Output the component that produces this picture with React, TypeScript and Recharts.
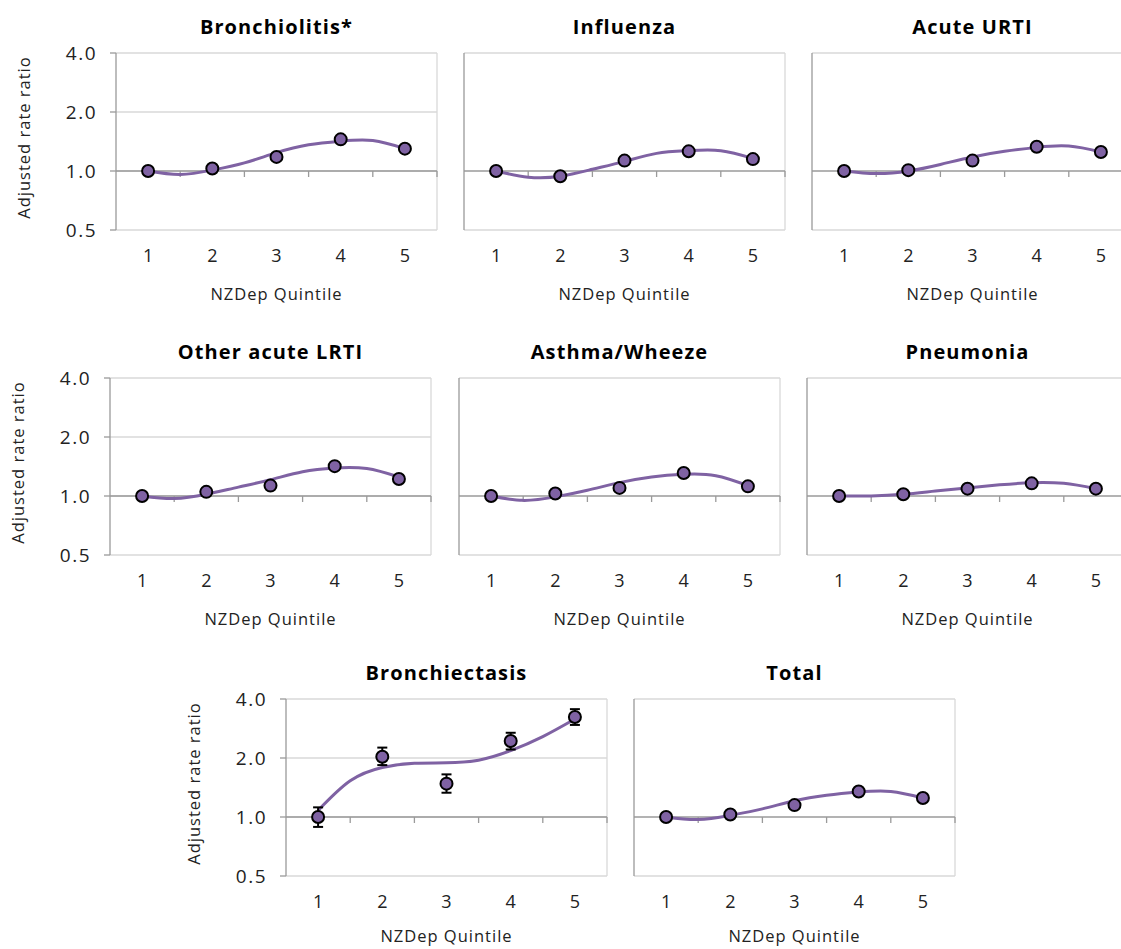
import {
  ComposedChart, Line, Scatter, ErrorBar,
  XAxis, YAxis, CartesianGrid, ReferenceLine,
} from 'recharts'

const QUINTILES = [1, 2, 3, 4, 5]
const TREND_X = [1, 1.5, 2, 2.5, 3, 3.5, 4, 4.5, 5]
const Y_TICKS = [0.5, 1, 2, 4]

const bronchiolitisRR    = [1.0, 1.03, 1.18, 1.45, 1.30]
const bronchiolitisTrend = [1.0, 0.96, 1.01, 1.10, 1.24, 1.36, 1.42, 1.43, 1.30]

const influenzaRR    = [1.0, 0.94, 1.13, 1.26, 1.15]
const influenzaTrend = [1.0, 0.93, 0.94, 1.02, 1.12, 1.23, 1.27, 1.27, 1.16]

const urtiRR    = [1.0, 1.01, 1.13, 1.33, 1.25]
const urtiTrend = [1.0, 0.97, 1.0, 1.08, 1.18, 1.26, 1.32, 1.34, 1.25]

const lrtiRR    = [1.0, 1.05, 1.13, 1.42, 1.22]
const lrtiTrend = [1.0, 0.97, 1.02, 1.11, 1.21, 1.33, 1.39, 1.38, 1.25]

const asthmaRR    = [1.0, 1.03, 1.10, 1.31, 1.12]
const asthmaTrend = [1.0, 0.95, 0.99, 1.07, 1.17, 1.25, 1.29, 1.27, 1.13]

const pneumoniaRR    = [1.0, 1.02, 1.09, 1.16, 1.09]
const pneumoniaTrend = [1.0, 1.0, 1.02, 1.06, 1.10, 1.14, 1.17, 1.16, 1.09]

const bronchiectasisRR    = [1.0, 2.03, 1.48, 2.44, 3.24]
const bronchiectasisLower = [0.89, 1.84, 1.33, 2.21, 2.95]
const bronchiectasisUpper = [1.12, 2.26, 1.65, 2.69, 3.55]
const bronchiectasisTrend = [1.08, 1.53, 1.79, 1.88, 1.89, 1.95, 2.18, 2.57, 3.16]

const totalRR    = [1.0, 1.03, 1.15, 1.35, 1.25]
const totalTrend = [1.0, 0.97, 1.02, 1.10, 1.21, 1.29, 1.34, 1.35, 1.25]

const PURPLE = '#7f62a3'
const AXIS = '#9a9a9a'
const GRID = '#d9d9d9'
const FONT = '"Open Sans", sans-serif'

const PLOT_W = 321
const PLOT_H = 177
const Y_AXIS_W = 110
const TOP = 45
const X_AXIS_H = 80

interface PanelProps {
  title: string
  left: number
  top: number
  rr: number[]
  trend: number[]
  lower?: number[]
  upper?: number[]
  showY?: boolean
  xLabelDy?: number
}

function OneLine(props: any) {
  const { x1, y1, x2 } = props
  const w = x2 - x1
  return (
    <g>
      <line x1={x1} y1={y1} x2={x2} y2={y1} stroke={AXIS} strokeWidth={1.3} />
      {[1, 2, 3, 4, 5].map(i => (
        <line key={i} x1={x1 + (w * i) / 5} y1={y1} x2={x1 + (w * i) / 5} y2={y1 + 6} stroke={AXIS} strokeWidth={1.3} />
      ))}
    </g>
  )
}

function Dot(props: any) {
  const { cx, cy } = props
  return <circle cx={cx} cy={cy} r={6} fill={PURPLE} stroke="#000" strokeWidth={2} />
}

function Panel({ title, left, top, rr, trend, lower, upper, showY, xLabelDy = 70 }: PanelProps) {
  const points = QUINTILES.map((q, i) => ({
    x: q,
    y: rr[i],
    err: lower && upper ? [rr[i] - lower[i], upper[i] - rr[i]] : [0, 0],
  }))
  const line = TREND_X.map((x, i) => ({ x, y: trend[i] }))

  return (
    <>
      <div
        style={{
          position: 'absolute', left, top: top - 39, width: PLOT_W,
          textAlign: 'center', fontFamily: FONT, fontWeight: 700, fontSize: 20,
          letterSpacing: 1.1, lineHeight: '26px', color: '#000',
        }}
      >
        {title}
      </div>
      <div style={{ position: 'absolute', left: left - Y_AXIS_W, top: top - TOP }}>
        <ComposedChart
          width={Y_AXIS_W + PLOT_W + 10}
          height={TOP + PLOT_H + X_AXIS_H}
          data={line}
          margin={{ top: TOP, right: 10, left: 0, bottom: 0 }}
        >
          <CartesianGrid horizontal vertical={false} stroke={GRID} strokeWidth={1.3} />
          <XAxis
            type="number"
            dataKey="x"
            domain={[0.5, 5.5]}
            ticks={QUINTILES}
            allowDataOverflow
            axisLine={false}
            tickLine={false}
            height={X_AXIS_H}
            tickMargin={13}
            tick={{ fill: '#222', fontSize: 18, fontFamily: FONT }}
            label={{
              content: ({ viewBox }: any) => (
                <text
                  x={viewBox.x + viewBox.width / 2}
                  y={viewBox.y + xLabelDy}
                  textAnchor="middle"
                  fontSize={16.5}
                  letterSpacing={1}
                  fontFamily={FONT}
                  fill="#222"
                >
                  NZDep Quintile
                </text>
              ),
            }}
          />
          <YAxis
            type="number"
            scale="log"
            domain={[0.5, 4]}
            ticks={Y_TICKS}
            allowDataOverflow
            width={Y_AXIS_W}
            axisLine={{ stroke: AXIS, strokeWidth: 1.3 }}
            tickLine={showY ? { stroke: AXIS, strokeWidth: 1.3 } : false}
            tickMargin={13}
            tick={showY ? { fill: '#222', fontSize: 19, letterSpacing: 1.5, fontFamily: FONT } : false}
            tickFormatter={(v: number) => v.toFixed(1)}
            label={showY ? {
              content: ({ viewBox }: any) => {
                const cx = viewBox.x + 17
                const cy = viewBox.y + viewBox.height / 2 - 4
                return (
                  <text
                    x={cx}
                    y={cy}
                    transform={`rotate(-90 ${cx} ${cy})`}
                    textAnchor="middle"
                    dominantBaseline="central"
                    fontSize={16.5}
                    letterSpacing={1}
                    fontFamily={FONT}
                    fill="#222"
                  >
                    Adjusted rate ratio
                  </text>
                )
              },
            } : undefined}
          />
          <ReferenceLine x={5.5} stroke={GRID} strokeWidth={1.3} ifOverflow="extendDomain" />
          <ReferenceLine y={1} shape={OneLine} />
          <Line
            type="natural"
            dataKey="y"
            stroke={PURPLE}
            strokeWidth={3}
            dot={false}
            activeDot={false}
            isAnimationActive={false}
          />
          <Scatter data={points} dataKey="y" shape={Dot} isAnimationActive={false}>
            {lower && upper ? (
              <ErrorBar dataKey="err" direction="y" width={5} stroke="#000" strokeWidth={2} isAnimationActive={false} />
            ) : null}
          </Scatter>
        </ComposedChart>
      </div>
    </>
  )
}

export default function App() {
  return (
    <div
      style={{
        position: 'absolute', left: 0, top: 0, width: 1121, height: 949,
        overflow: 'hidden', background: '#fff',
      }}
    >
      <Panel title="Bronchiolitis*" left={116} top={53} rr={bronchiolitisRR} trend={bronchiolitisTrend} showY />
      <Panel title="Influenza" left={464} top={53} rr={influenzaRR} trend={influenzaTrend} />
      <Panel title="Acute URTI" left={812} top={53} rr={urtiRR} trend={urtiTrend} />
      <Panel title="Other acute LRTI" left={110} top={378} rr={lrtiRR} trend={lrtiTrend} showY />
      <Panel title="Asthma/Wheeze" left={459} top={378} rr={asthmaRR} trend={asthmaTrend} />
      <Panel title="Pneumonia" left={807} top={378} rr={pneumoniaRR} trend={pneumoniaTrend} />
      <Panel
        title="Bronchiectasis"
        left={286}
        top={699}
        rr={bronchiectasisRR}
        trend={bronchiectasisTrend}
        lower={bronchiectasisLower}
        upper={bronchiectasisUpper}
        showY
        xLabelDy={66}
      />
      <Panel title="Total" left={634} top={699} rr={totalRR} trend={totalTrend} xLabelDy={66} />
    </div>
  )
}
